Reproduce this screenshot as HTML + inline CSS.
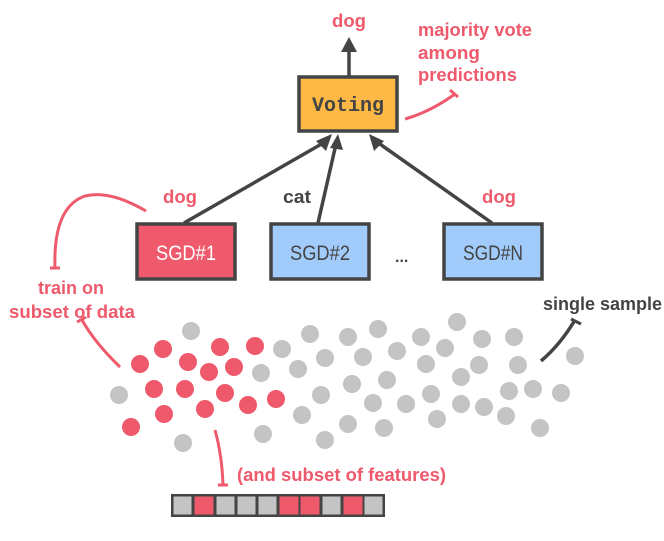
<!DOCTYPE html>
<html><head><meta charset="utf-8"><style>
html,body{margin:0;padding:0;background:#fff;}
svg{display:block;}
text{font-family:"Liberation Sans",sans-serif;}
</style></head><body>
<svg width="664" height="541" viewBox="0 0 664 541" xmlns="http://www.w3.org/2000/svg">
<g font-size="18" fill="#ee5a6c" font-weight="bold">
<text x="332" y="27" textLength="34" lengthAdjust="spacingAndGlyphs">dog</text>
<text x="418" y="36" textLength="114" lengthAdjust="spacingAndGlyphs">majority vote</text>
<text x="418" y="59" textLength="62" lengthAdjust="spacingAndGlyphs">among</text>
<text x="418" y="81" textLength="99" lengthAdjust="spacingAndGlyphs">predictions</text>
<text x="163" y="203" textLength="34" lengthAdjust="spacingAndGlyphs">dog</text>
<text x="482" y="203" textLength="34" lengthAdjust="spacingAndGlyphs">dog</text>
<text x="38" y="294" textLength="66" lengthAdjust="spacingAndGlyphs">train on</text>
<text x="9" y="318" textLength="126" lengthAdjust="spacingAndGlyphs">subset of data</text>
<text x="237" y="481" textLength="209" lengthAdjust="spacingAndGlyphs">(and subset of features)</text>
</g>
<g font-size="18" fill="#444" font-weight="bold">
<text x="283" y="203" textLength="28" lengthAdjust="spacingAndGlyphs">cat</text>
<text x="543" y="310" textLength="119" lengthAdjust="spacingAndGlyphs">single sample</text>
<text x="395" y="262" font-size="16">...</text>
</g>
<g stroke="#444" stroke-width="3.5" fill="none">
<line x1="349" y1="76" x2="349" y2="50"/>
<line x1="184" y1="223" x2="325" y2="142"/>
<line x1="318" y1="223" x2="336" y2="144"/>
<line x1="492" y1="223" x2="377" y2="142"/>
<path d="M541 361 Q560 345 575 320"/>
<line x1="571" y1="319" x2="581" y2="324" stroke-width="3"/>
</g>
<g fill="#444">
<polygon points="349,37 341,52 357,52"/>
<polygon points="332,134 316,141 326,151"/>
<polygon points="338,134 330,148 343,150"/>
<polygon points="369,134 374,151 384,141"/>
</g>
<g stroke="#ee5a6c" stroke-width="3" fill="none">
<path d="M405 119 Q430 112 455 94"/>
<line x1="450" y1="90" x2="458" y2="97"/>
<path d="M146 211 Q110 190 85 196 Q53 207 55 268"/>
<line x1="50" y1="268" x2="60" y2="268"/>
<path d="M120 367 Q95 343 82 320"/>
<line x1="77" y1="322" x2="86" y2="317"/>
<path d="M215 430 Q222 455 223 485"/>
<line x1="218" y1="485" x2="228" y2="485"/>
</g>
<rect x="299" y="77" width="98" height="54" fill="#fdb845" stroke="#444" stroke-width="3.5"/>
<text x="348" y="111" text-anchor="middle" style="font-family:'Liberation Mono',monospace;font-weight:bold" font-size="20" fill="#444" textLength="72" lengthAdjust="spacingAndGlyphs">Voting</text>
<rect x="137" y="224" width="98" height="55" fill="#ee5a6c" stroke="#444" stroke-width="3.5"/>
<rect x="271" y="224" width="98" height="55" fill="#a0cbfa" stroke="#444" stroke-width="3.5"/>
<rect x="444" y="224" width="98" height="55" fill="#a0cbfa" stroke="#444" stroke-width="3.5"/>
<g font-size="21" text-anchor="middle">
<text x="186" y="260" fill="#fff" textLength="60" lengthAdjust="spacingAndGlyphs">SGD#1</text>
<text x="320" y="260" fill="#444" textLength="60" lengthAdjust="spacingAndGlyphs">SGD#2</text>
<text x="493" y="260" fill="#444" textLength="60" lengthAdjust="spacingAndGlyphs">SGD#N</text>
</g>
<g fill="#ee5a6c">
<circle cx="163" cy="349" r="9"/><circle cx="140" cy="364" r="9"/><circle cx="220" cy="347" r="9"/><circle cx="255" cy="346" r="9"/>
<circle cx="188" cy="362" r="9"/><circle cx="234" cy="367" r="9"/><circle cx="209" cy="372" r="9"/><circle cx="154" cy="389" r="9"/>
<circle cx="185" cy="389" r="9"/><circle cx="225" cy="393" r="9"/><circle cx="248" cy="405" r="9"/><circle cx="276" cy="399" r="9"/>
<circle cx="164" cy="414" r="9"/><circle cx="205" cy="409" r="9"/><circle cx="131" cy="427" r="9"/>
</g>
<g fill="#c4c4c4">
<circle cx="191" cy="331" r="9"/><circle cx="119" cy="395" r="9"/><circle cx="183" cy="443" r="9"/><circle cx="282" cy="349" r="9"/>
<circle cx="261" cy="373" r="9"/><circle cx="310" cy="334" r="9"/><circle cx="298" cy="369" r="9"/><circle cx="325" cy="358" r="9"/>
<circle cx="321" cy="395" r="9"/><circle cx="302" cy="415" r="9"/><circle cx="263" cy="434" r="9"/><circle cx="325" cy="440" r="9"/>
<circle cx="348" cy="337" r="9"/><circle cx="363" cy="357" r="9"/><circle cx="352" cy="384" r="9"/><circle cx="373" cy="403" r="9"/>
<circle cx="348" cy="424" r="9"/><circle cx="384" cy="428" r="9"/><circle cx="378" cy="329" r="9"/><circle cx="397" cy="351" r="9"/>
<circle cx="387" cy="380" r="9"/><circle cx="406" cy="404" r="9"/><circle cx="421" cy="337" r="9"/><circle cx="426" cy="364" r="9"/>
<circle cx="431" cy="394" r="9"/><circle cx="437" cy="419" r="9"/><circle cx="445" cy="348" r="9"/><circle cx="457" cy="322" r="9"/>
<circle cx="461" cy="377" r="9"/><circle cx="461" cy="404" r="9"/><circle cx="482" cy="339" r="9"/><circle cx="479" cy="365" r="9"/>
<circle cx="484" cy="407" r="9"/><circle cx="506" cy="416" r="9"/><circle cx="514" cy="337" r="9"/><circle cx="518" cy="365" r="9"/>
<circle cx="509" cy="391" r="9"/><circle cx="533" cy="389" r="9"/><circle cx="540" cy="428" r="9"/><circle cx="575" cy="356" r="9"/>
<circle cx="561" cy="393" r="9"/>
</g>
<rect x="171" y="494" width="214" height="23" fill="#444"/>
<g fill="#c4c4c4">
<rect x="173.5" y="496.5" width="18" height="18"/>
<rect x="216.5" y="496.5" width="18" height="18"/>
<rect x="237.5" y="496.5" width="18" height="18"/>
<rect x="258.5" y="496.5" width="18" height="18"/>
<rect x="322.5" y="496.5" width="18" height="18"/>
<rect x="364.5" y="496.5" width="18" height="18"/>
</g>
<g fill="#ee5a6c">
<rect x="194.5" y="496.5" width="19" height="18"/>
<rect x="279.5" y="496.5" width="19" height="18"/>
<rect x="300.5" y="496.5" width="19" height="18"/>
<rect x="343.5" y="496.5" width="19" height="18"/>
</g>
</svg>
</body></html>
